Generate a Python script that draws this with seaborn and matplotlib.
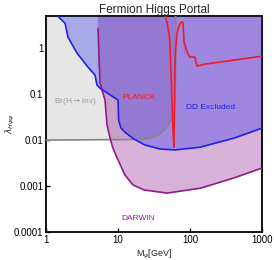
import numpy as np
import pandas as pd
import seaborn as sns
import matplotlib.pyplot as plt

# Br(H->inv) bound
br_mass = [1, 15, 28, 38, 45, 50, 55, 58, 60, 62, 63, 63.3]
br_lam = [0.01, 0.0103, 0.011, 0.0135, 0.0175, 0.022, 0.029, 0.035, 0.045, 0.075, 0.2, 5]

# direct detection exclusion
dd_mass = [1.45, 1.84, 2.02, 2.70, 3.83, 4.79, 5.11, 5.62, 10, 10.2, 11.0, 12.9,
           16.7, 23.7, 38.3, 61.9, 138, 408, 1000]
dd_lam = [5, 3.49, 1.73, 0.78, 0.387, 0.259, 0.157, 0.135, 0.074, 0.0272, 0.0182,
          0.0142, 0.0105, 0.0078, 0.0064, 0.0061, 0.0070, 0.0110, 0.0182]

# DARWIN projection
darwin_mass = [5.28, 5.28, 5.63, 6.6, 7.04, 7.75, 8.5, 9.7, 12.5, 16.2, 23, 48,
               141, 409, 1000]
darwin_lam = [5, 0.39, 0.173, 0.074, 0.0212, 0.0111, 0.0067, 0.0041, 0.00173,
              0.00105, 0.00082, 0.0007, 0.0009, 0.0015, 0.00246]

# Planck relic density
planck_mass = [45, 49.5, 52.7, 54.6, 56.2, 58, 60, 60.8, 61.5, 63, 66, 70, 75,
               80, 82.5, 82.5, 94, 100, 117, 125, 162, 1000]
planck_lam = [5.5, 2.86, 1.42, 0.27, 0.074, 0.0165, 0.007, 0.03, 0.27, 0.9, 2.0,
              3.0, 3.67, 3.67, 2.0, 0.74, 0.74, 0.64, 0.64, 0.41, 0.45, 0.67]

sns.set_style("ticks")
plt.rcParams['font.family'] = ['Liberation Sans', 'DejaVu Sans']
plt.rcParams['mathtext.fontset'] = 'dejavusans'

fig = plt.figure(figsize=(2.74, 2.6), dpi=100)
ax = fig.add_axes([0.168, 0.108, 0.788, 0.830])

top = 5
ax.fill_between(br_mass, br_lam, top, color='#e6e6e6', lw=0, zorder=1)
ax.fill_between(darwin_mass, darwin_lam, top, color=(0.5, 0.0, 0.5), alpha=0.3, lw=0, zorder=2)
ax.fill_between(dd_mass, dd_lam, top, color=(0.16, 0.16, 0.93), alpha=0.32, lw=0, zorder=3)

lines = [
    (br_mass, br_lam, '#858585'),
    (darwin_mass, darwin_lam, '#8e1c8e'),
    (dd_mass, dd_lam, '#2020e6'),
    (planck_mass, planck_lam, '#ee1c2c'),
]
for i, (m, lam, c) in enumerate(lines):
    df = pd.DataFrame({'m': m, 'lam': lam})
    sns.lineplot(data=df, x='m', y='lam', sort=False, color=c, lw=1.2,
                 ax=ax, zorder=4 + i)

ax.set_xscale('log')
ax.set_yscale('log')
ax.set_xlim(1, 1000)
ax.set_ylim(1e-4, top)
ax.set_xticks([1, 10, 100, 1000])
ax.set_xticklabels(['1', '10', '100', '1000'])
ax.set_yticks([1e-4, 1e-3, 1e-2, 1e-1, 1])
ax.set_yticklabels(['0.0001', '0.001', '0.01', '0.1', '1'])
ax.minorticks_off()
ax.tick_params(direction='in', length=3, width=1, labelsize=7, colors='black', pad=2)
for s in ax.spines.values():
    s.set_linewidth(1.3)
    s.set_color('black')

ax.set_xlabel(r'M$_\psi$[GeV]', fontsize=6.5, labelpad=2)
ax.set_ylabel(r'$\lambda_{H\psi\psi}$', fontsize=6.5)
ax.yaxis.set_label_coords(-0.135, 0.5)
ax.set_title('Fermion Higgs Portal', fontsize=8.5, pad=2)

ax.text(1.3, 0.068, r'Br(H$\rightarrow$inv)', color='#9a9a9a', fontsize=6, va='center', zorder=10)
ax.text(11.5, 0.085, 'PLANCK', color='#ee1c2c', fontsize=6, va='center', zorder=10)
ax.text(88, 0.05, 'DD Excluded', color='#2020e6', fontsize=6, va='center', zorder=10)
ax.text(11, 0.0002, 'DARWIN', color='#8e1c8e', fontsize=6, va='center', zorder=10)

plt.savefig('out.png', dpi=100)
